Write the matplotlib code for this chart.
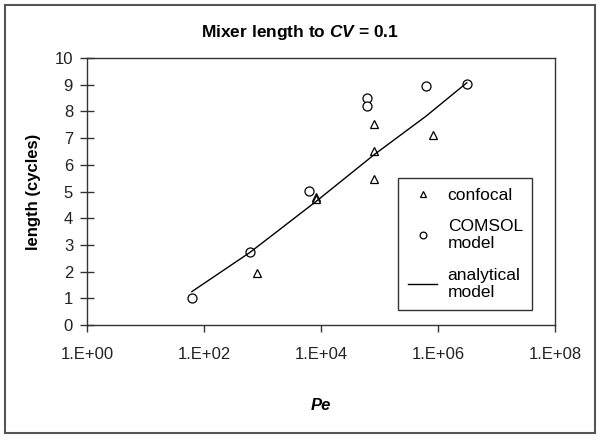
import matplotlib
matplotlib.use("Agg")
import matplotlib.pyplot as plt
from matplotlib.patches import Rectangle
from matplotlib.ticker import FixedLocator, NullLocator

plt.rcParams["font.family"] = ["Liberation Sans", "DejaVu Sans"]
plt.rcParams["mathtext.fontset"] = "custom"
plt.rcParams["mathtext.it"] = "Liberation Sans:italic:bold"
plt.rcParams["mathtext.rm"] = "Liberation Sans:bold"

# confocal measurements
confocal_pe = [817, 8150, 8150, 81100, 81100, 81100, 811000]
confocal_len = [1.95, 4.8, 4.72, 7.52, 6.52, 5.47, 7.1]

# COMSOL model
comsol_pe = [62, 611, 6180, 60100, 60100, 623000, 3.1e6]
comsol_len = [1.0, 2.72, 5.02, 8.52, 8.19, 8.94, 9.03]

# analytical model
anal_pe = [62, 611, 8150, 81100, 623000, 3.1e6]
anal_len = [1.25, 2.72, 4.62, 6.38, 7.82, 9.07]

xticks = [1, 1e2, 1e4, 1e6, 1e8]
xticklabels = ["1.E+00", "1.E+02", "1.E+04", "1.E+06", "1.E+08"]

fig = plt.figure(figsize=(6, 4.38), dpi=100)
ax = fig.add_axes([87 / 600, 1 - 325 / 438, 468 / 600, 267 / 438])

ax.plot(confocal_pe, confocal_len, linestyle="none", marker="^", markersize=6,
        markerfacecolor="white", markeredgecolor="black", markeredgewidth=0.9,
        label="confocal")
ax.plot(comsol_pe, comsol_len, linestyle="none", marker="o", markersize=6.5,
        markerfacecolor="white", markeredgecolor="black", markeredgewidth=0.9,
        label="COMSOL\nmodel")
ax.plot(anal_pe, anal_len, color="black", linewidth=1.0,
        label="analytical\nmodel")

ax.set_xscale("log")
ax.set_xlim(1, 1e8)
ax.set_ylim(0, 10)
ax.xaxis.set_major_locator(FixedLocator(xticks))
ax.xaxis.set_minor_locator(NullLocator())
ax.set_xticklabels(xticklabels)
ax.set_yticks(range(0, 11))

for s in ax.spines.values():
    s.set_color("#333333")
    s.set_linewidth(1.0)
ax.tick_params(axis="x", direction="out", length=5, width=1, color="#333333",
               labelsize=12, pad=11, labelcolor="#222222")
ax.tick_params(axis="y", direction="inout", length=10, width=1, color="#333333",
               labelsize=12, pad=5, labelcolor="#222222")

ax.set_xlabel("Pe", fontsize=12, fontweight="bold", fontstyle="italic",
              labelpad=26)
ax.set_ylabel("length (cycles)", fontsize=12, fontweight="bold", labelpad=10)
fig.text(0.5, 1 - 32 / 438, r"Mixer length to $CV$ = 0.1",
         ha="center", va="center", fontsize=12.5, fontweight="bold")

leg = ax.legend(loc="upper left", bbox_to_anchor=(0.665, 0.551), fontsize=12.5,
                frameon=True, fancybox=False, edgecolor="black",
                borderpad=0.55, labelspacing=0.95, handlelength=1.7,
                handletextpad=0.6, markerscale=0.75, borderaxespad=0)
leg.get_frame().set_linewidth(1.0)

fig.patches.append(Rectangle((5 / 600, 5 / 438), 590 / 600, 428 / 438,
                             transform=fig.transFigure, fill=False,
                             edgecolor="#555555", linewidth=1.5))

fig.savefig("out.png", dpi=100)
